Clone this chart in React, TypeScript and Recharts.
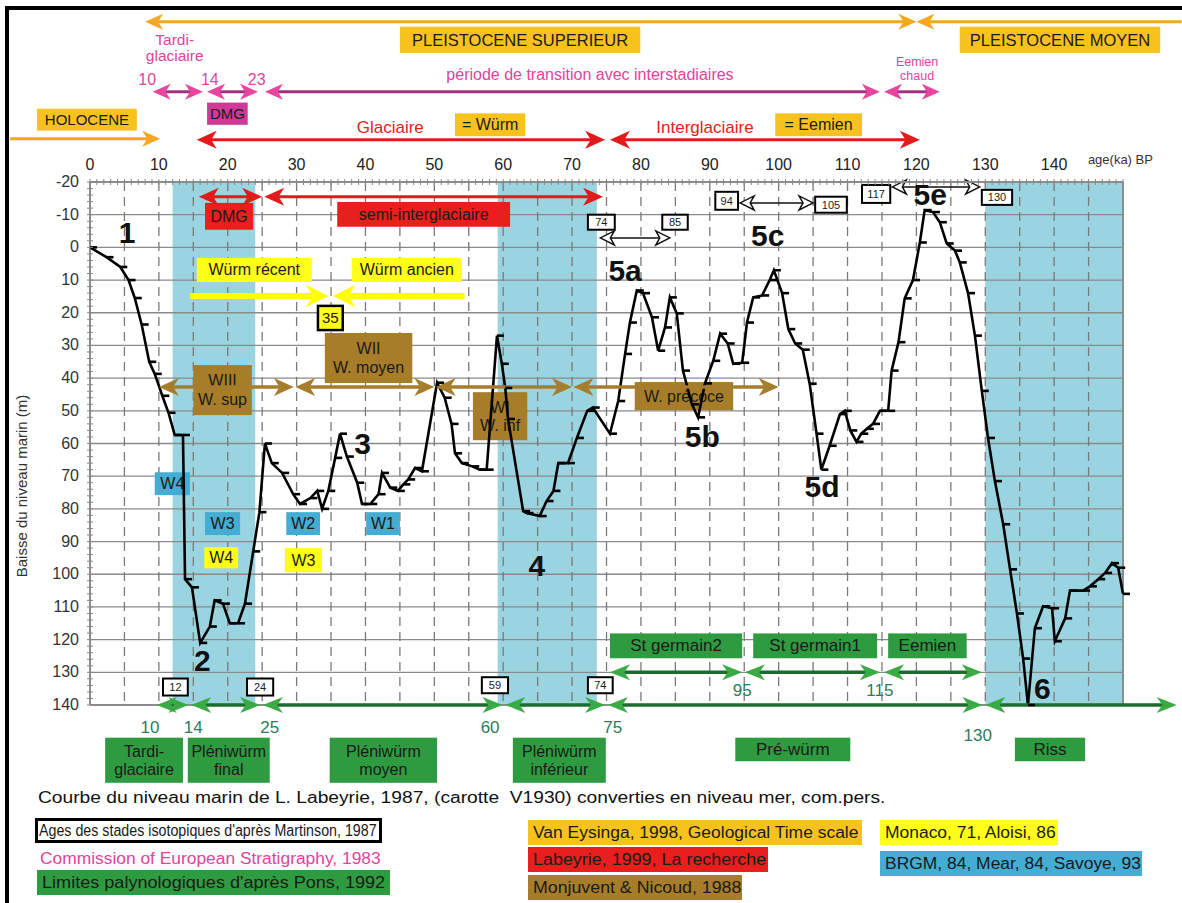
import React from 'react';
import { ComposedChart, Line, XAxis, YAxis, ReferenceLine, ReferenceArea, ReferenceDot } from 'recharts';

const FONT = '"Liberation Sans", Arial, Helvetica, sans-serif';

// sea level curve, Labeyrie 1987 (age in ka BP, drop of sea level in m)
const ages = [
  0, 2.4, 4.4, 5.6, 6.5, 7.5, 8.6, 9.4, 10.5, 11.4, 12.3, 13.5, 13.8, 14.8, 16, 17.4, 18.1, 19.3, 20.3, 21.5,
  22.5, 23.7, 24.6, 25.4, 26.4, 27.9, 29.5, 30.5, 32, 33, 33.7, 34.6, 35.6, 36.3, 37.3, 38.8, 39.5, 40.7, 41.9, 42.4,
  43.6, 44.7, 45.5, 46.2, 47.2, 48.2, 50.4, 51.5, 52.5, 53, 54, 55.5, 56.6, 57.6, 59.1, 59.8, 60.3, 60.7, 62.9, 63.4,
  65.3, 66.3, 67.3, 68, 69.4, 70.7, 72.2, 73, 75.5, 76.7, 77.7, 78.4, 79.4, 80.3, 81.6, 82.5, 83.5, 84.2, 85.2, 86.1,
  87.4, 88.3, 89.3, 90.5, 91.5, 92.6, 93.4, 94.7, 95.4, 96.3, 97.6, 98.7, 99.3, 100.5, 101.4, 102.4, 103.5, 104.5, 105.5, 106.2,
  107.4, 108.9, 109.6, 110.4, 111.3, 112, 112.8, 113.7, 114.7, 115.9, 116.4, 117.4, 118.3, 119.5, 120.5, 121.2, 122.4, 123.4, 124.4, 125.6,
  126.3, 127.5, 128.5, 129.5, 130.4, 131.4, 132.6, 133.6, 134.6, 135.5, 136.2, 137.2, 138.4, 139.7, 140.1, 141.6, 142.3, 144.2, 145.2, 146.4,
  147.4, 148.4, 149.3, 150,
];
const levels = [
  0, 3, 6, 10, 15.5, 23.6, 35, 38.7, 45.4, 50.6, 57.4, 57.4, 101.5, 104, 121, 116, 108, 109, 115, 115,
  109, 93, 81, 60, 66, 69, 75.5, 78.5, 76.7, 74.5, 80, 74.5, 64.4, 57, 64, 72, 78.5, 78.5, 75.5, 69,
  73.5, 74.5, 72.5, 71, 67.5, 68.5, 41.4, 46, 54, 63, 66, 67, 68, 68, 27, 35.6, 43, 52.5, 80.7, 81.3,
  82.2, 77.6, 74.5, 66, 66, 58.3, 50, 49, 57, 47, 32.6, 23, 13.2, 14, 21.4, 31.6, 24.5, 15.3, 20.2, 37.7,
  48, 52, 41.6, 34.7, 26.4, 29.4, 35.6, 35.3, 23, 15.3, 14.7, 10, 7, 14, 25, 29.4, 31.3, 41.7, 57, 68,
  60.7, 51, 50, 56, 59.5, 57, 55.5, 54, 50, 50, 37.7, 29, 15.6, 10, -1.5, -11.4, -10.8, -7.7, -1.2, 1,
  4.6, 14, 27, 43.9, 58.3, 71.5, 84.7, 98.5, 112, 125.8, 140, 116.5, 109.8, 110.4, 120.5, 113.5, 105, 105, 103.7, 101.5,
  99.6, 96.6, 98, 106,
];

const xTicks = Array.from({ length: 151 }, (_, i) => i);
const yTicks = Array.from({ length: 81 }, (_, i) => -20 + i * 2);
const hGrid = [-10, 0, 10, 20, 30, 40, 50, 60, 70, 80, 90, 100, 110, 120, 130];
const vGrid = Array.from({ length: 29 }, (_, i) => 5 + i * 5);

// isotopic stages shaded (ka)
const coldStages = [[12, 24], [59.2, 73.6], [130, 150]];

const data = ages.map((age, i) => ({ age, level: levels[i] }));

const C = {
  gold: '#F8C21E',
  red: '#E81F1D',
  yellow: '#FFFF1A',
  brown: '#A77D2A',
  blue: '#45ACD3',
  green: '#2F9B40',
  magenta: '#E0449C',
  dmg: '#CF3A96',
  band: '#9AD4E1',
  teal: '#2E7B5C',
};

type Arr = { x1: number; x2: number; y: number; heads: string; s: string };
const arrowStyles: Record<string, any> = {
  orange: { line: '#F5A623', head: '#F5A623', w: 3, hl: 18, hw: 8 },
  magenta: { line: '#A3307F', head: '#E8459E', w: 3, hl: 18, hw: 8 },
  red: { line: '#E31A1C', head: '#E31A1C', w: 3, hl: 20, hw: 9 },
  yellow: { line: '#FFFF00', head: '#FFFF00', w: 6, hl: 22, hw: 11 },
  brown: { line: '#A67D2C', head: '#A67D2C', w: 3.5, hl: 20, hw: 9 },
  green: { line: '#1D6B2E', head: '#3AAA45', w: 3.5, hl: 20, hw: 8 },
  hollow: { line: '#111', head: '#fff', w: 1.5, hl: 14, hw: 7, hollow: true },
};

const arrows: Arr[] = [
  { x1: 8, x2: 120, y: -69, heads: 'both', s: 'orange' },
  { x1: 120, x2: 158.5, y: -69, heads: 'start', s: 'orange' },
  { x1: -11.6, x2: 10.2, y: -33.2, heads: 'end', s: 'orange' },
  { x1: 9.1, x2: 16.4, y: -47.6, heads: 'both', s: 'magenta' },
  { x1: 17, x2: 24.4, y: -47.6, heads: 'both', s: 'magenta' },
  { x1: 25.4, x2: 114.7, y: -47.6, heads: 'both', s: 'magenta' },
  { x1: 115.3, x2: 123.4, y: -47.6, heads: 'both', s: 'magenta' },
  { x1: 15.5, x2: 74.8, y: -32.9, heads: 'both', s: 'red' },
  { x1: 75.5, x2: 120.5, y: -32.9, heads: 'both', s: 'red' },
  { x1: 15.8, x2: 25, y: -15.5, heads: 'both', s: 'red' },
  { x1: 25.3, x2: 74.5, y: -15.5, heads: 'both', s: 'red' },
  { x1: 14.5, x2: 34.6, y: 14.9, heads: 'end', s: 'yellow' },
  { x1: 35.3, x2: 54.4, y: 14.9, heads: 'start', s: 'yellow' },
  { x1: 10, x2: 29.6, y: 42.7, heads: 'both', s: 'brown' },
  { x1: 29.8, x2: 50, y: 42.7, heads: 'both', s: 'brown' },
  { x1: 50.2, x2: 70, y: 42.7, heads: 'both', s: 'brown' },
  { x1: 70.2, x2: 100, y: 42.7, heads: 'both', s: 'brown' },
  { x1: 74.1, x2: 84.2, y: -2.9, heads: 'both', s: 'hollow' },
  { x1: 94.4, x2: 105, y: -13.6, heads: 'both', s: 'hollow' },
  { x1: 116.5, x2: 129.2, y: -18.5, heads: 'both', s: 'hollow' },
  { x1: 75.5, x2: 94.7, y: 130, heads: 'both', s: 'green' },
  { x1: 95.1, x2: 114.7, y: 130, heads: 'both', s: 'green' },
  { x1: 115.3, x2: 129.5, y: 130, heads: 'both', s: 'green' },
  { x1: 9.7, x2: 14.3, y: 140, heads: 'both', s: 'green' },
  { x1: 14.7, x2: 24.7, y: 140, heads: 'both', s: 'green' },
  { x1: 25.1, x2: 59.9, y: 140, heads: 'both', s: 'green' },
  { x1: 60.3, x2: 74.8, y: 140, heads: 'both', s: 'green' },
  { x1: 75.2, x2: 129.6, y: 140, heads: 'both', s: 'green' },
  { x1: 130, x2: 157.8, y: 140, heads: 'both', s: 'green' },
];

type Box = { x1: number; x2: number; y1: number; y2: number; t: string[]; fill: string; fs?: number; color?: string; border?: number };
const boxes: Box[] = [
  { x1: 45, x2: 79.9, y1: -67.5, y2: -59.5, t: ['PLEISTOCENE SUPERIEUR'], fill: C.gold, fs: 16.5 },
  { x1: 126.3, x2: 155.4, y1: -67.5, y2: -59.5, t: ['PLEISTOCENE MOYEN'], fill: C.gold, fs: 16.5 },
  { x1: 17, x2: 22.9, y1: -44.3, y2: -37.5, t: ['DMG'], fill: C.dmg },
  { x1: -7.7, x2: 6.8, y1: -42.4, y2: -35.7, t: ['HOLOCENE'], fill: C.gold },
  { x1: 53, x2: 63.2, y1: -41, y2: -34, t: ['= Würm'], fill: C.gold, fs: 16 },
  { x1: 99.5, x2: 112.1, y1: -41, y2: -34, t: ['= Eemien'], fill: C.gold, fs: 16 },
  { x1: 16.7, x2: 23.7, y1: -13.6, y2: -5.4, t: ['DMG'], fill: C.red, fs: 16 },
  { x1: 35.9, x2: 61, y1: -13.9, y2: -6.3, t: ['semi-interglaciaire'], fill: C.red, fs: 16 },
  { x1: 15.5, x2: 32.2, y1: 3.2, y2: 10.6, t: ['Würm récent'], fill: C.yellow, fs: 16 },
  { x1: 38, x2: 54, y1: 3.2, y2: 10.6, t: ['Würm ancien'], fill: C.yellow, fs: 16 },
  { x1: 33.1, x2: 36.7, y1: 17.9, y2: 25.3, t: ['35'], fill: C.yellow, border: 2.5 },
  { x1: 34.1, x2: 46.8, y1: 26.2, y2: 41.5, t: ['WII', 'W. moyen'], fill: C.brown, fs: 16 },
  { x1: 15, x2: 23.5, y1: 36, y2: 51.3, t: ['WIII', 'W. sup'], fill: C.brown, fs: 16 },
  { x1: 55.6, x2: 63.5, y1: 44.3, y2: 59, t: ['WI', 'W. inf'], fill: C.brown, fs: 16 },
  { x1: 79.1, x2: 93.4, y1: 41.2, y2: 49.8, t: ['W. précoce'], fill: C.brown, fs: 16 },
  { x1: 72.3, x2: 76.2, y1: -10, y2: -5.4, t: ['74'], fill: '#fff', fs: 11, border: 2 },
  { x1: 83.1, x2: 86.8, y1: -10, y2: -5.4, t: ['85'], fill: '#fff', fs: 11, border: 2 },
  { x1: 90.8, x2: 94.1, y1: -17, y2: -11.5, t: ['94'], fill: '#fff', fs: 11, border: 2 },
  { x1: 105.3, x2: 109.9, y1: -15.5, y2: -10.6, t: ['105'], fill: '#fff', fs: 11, border: 2 },
  { x1: 112.1, x2: 116.2, y1: -19.1, y2: -13.6, t: ['117'], fill: '#fff', fs: 11, border: 2 },
  { x1: 129.5, x2: 133.9, y1: -17.6, y2: -13, t: ['130'], fill: '#fff', fs: 11, border: 2 },
  { x1: 9.4, x2: 14.5, y1: 68.8, y2: 75.8, t: ['W4'], fill: C.blue, fs: 16 },
  { x1: 16.7, x2: 21.8, y1: 81, y2: 88, t: ['W3'], fill: C.blue, fs: 16 },
  { x1: 28.5, x2: 33.4, y1: 81, y2: 88, t: ['W2'], fill: C.blue, fs: 16 },
  { x1: 40.1, x2: 45, y1: 81, y2: 88, t: ['W1'], fill: C.blue, fs: 16 },
  { x1: 16.6, x2: 21.5, y1: 91.7, y2: 98.2, t: ['W4'], fill: C.yellow, fs: 16 },
  { x1: 28.3, x2: 33.7, y1: 92, y2: 99.4, t: ['W3'], fill: C.yellow, fs: 16 },
  { x1: 75.5, x2: 94.7, y1: 118.1, y2: 125.7, t: ['St germain2'], fill: C.green, fs: 17 },
  { x1: 96.3, x2: 114.3, y1: 118.1, y2: 125.7, t: ['St germain1'], fill: C.green, fs: 17 },
  { x1: 115.9, x2: 127.3, y1: 118.1, y2: 125.7, t: ['Eemien'], fill: C.green, fs: 17 },
  { x1: 10.6, x2: 14.2, y1: 131.9, y2: 137.1, t: ['12'], fill: '#fff', fs: 11, border: 2 },
  { x1: 22.8, x2: 26.6, y1: 131.9, y2: 137.1, t: ['24'], fill: '#fff', fs: 11, border: 2 },
  { x1: 56.9, x2: 60.7, y1: 131.5, y2: 136.4, t: ['59'], fill: '#fff', fs: 11, border: 2 },
  { x1: 72.3, x2: 75.9, y1: 131.5, y2: 136.4, t: ['74'], fill: '#fff', fs: 11, border: 2 },
  { x1: 2.2, x2: 13.5, y1: 150, y2: 163.8, t: ['Tardi-', 'glaciaire'], fill: C.green, fs: 16 },
  { x1: 14.2, x2: 26.1, y1: 150, y2: 163.8, t: ['Pléniwürm', 'final'], fill: C.green, fs: 16 },
  { x1: 34.8, x2: 50.4, y1: 150, y2: 163.8, t: ['Pléniwürm', 'moyen'], fill: C.green, fs: 16 },
  { x1: 61.4, x2: 74.9, y1: 150, y2: 163.8, t: ['Pléniwürm', 'inférieur'], fill: C.green, fs: 16 },
  { x1: 93.7, x2: 110.4, y1: 150, y2: 157.2, t: ['Pré-würm'], fill: C.green, fs: 17 },
  { x1: 134.3, x2: 144.5, y1: 150, y2: 157.2, t: ['Riss'], fill: C.green, fs: 17 },
];

type Txt = { x: number; y: number; t: string[]; color: string; fs: number; bold?: boolean; anchor?: string; lh?: number; rot?: number };
const texts: Txt[] = [
  { x: 12.3, y: -61.2, t: ['Tardi-', 'glaciaire'], color: C.magenta, fs: 15.5, lh: 16 },
  { x: 8.3, y: -51.3, t: ['10'], color: C.magenta, fs: 16 },
  { x: 17.4, y: -51.3, t: ['14'], color: C.magenta, fs: 16 },
  { x: 24.2, y: -51.3, t: ['23'], color: C.magenta, fs: 16 },
  { x: 72.6, y: -52.8, t: ['période de transition avec interstadiaires'], color: C.magenta, fs: 16 },
  { x: 120.1, y: -54.6, t: ['Eemien', 'chaud'], color: C.magenta, fs: 12.5, lh: 14.5 },
  { x: 43.6, y: -36.6, t: ['Glaciaire'], color: '#E42020', fs: 17 },
  { x: 89.3, y: -36.6, t: ['Interglaciaire'], color: '#E42020', fs: 17 },
  { x: 144.9, y: -27, t: ['age(ka) BP'], color: '#333', fs: 13, anchor: 'start' },
  { x: -9.9, y: 73, t: ['Baisse du niveau marin (m)'], color: '#333', fs: 15, rot: -90 },
  { x: 5.4, y: -4.4, t: ['1'], color: '#111', fs: 30, bold: true },
  { x: 16.3, y: 126.3, t: ['2'], color: '#111', fs: 30, bold: true },
  { x: 39.6, y: 59.9, t: ['3'], color: '#111', fs: 30, bold: true },
  { x: 64.9, y: 97.2, t: ['4'], color: '#111', fs: 30, bold: true },
  { x: 77.7, y: 7, t: ['5a'], color: '#111', fs: 30, bold: true },
  { x: 88.9, y: 58, t: ['5b'], color: '#111', fs: 30, bold: true },
  { x: 98.4, y: -3.6, t: ['5c'], color: '#111', fs: 30, bold: true },
  { x: 106.3, y: 73.2, t: ['5d'], color: '#111', fs: 30, bold: true },
  { x: 122, y: -16.3, t: ['5e'], color: '#111', fs: 30, bold: true },
  { x: 138.3, y: 134.8, t: ['6'], color: '#111', fs: 30, bold: true },
  { x: 8.7, y: 146.8, t: ['10'], color: C.teal, fs: 17 },
  { x: 15, y: 146.8, t: ['14'], color: C.teal, fs: 17 },
  { x: 26.1, y: 146.8, t: ['25'], color: C.teal, fs: 17 },
  { x: 58.1, y: 146.8, t: ['60'], color: C.teal, fs: 17 },
  { x: 75.9, y: 146.8, t: ['75'], color: C.teal, fs: 17 },
  { x: 128.9, y: 149.3, t: ['130'], color: C.teal, fs: 17 },
  { x: 94.7, y: 135.5, t: ['95'], color: C.teal, fs: 17 },
  { x: 114.7, y: 135.5, t: ['115'], color: C.teal, fs: 17 },
];

const legendItems = [
  { text: "Ages des stades isotopiques d'après Martinson, 1987", left: 35, top: 818, width: 347, bg: '#fff', border: true, sx: 0.89 },
  { text: 'Commission of European Stratigraphy, 1983', left: 35, top: 846, width: 345, bg: 'transparent', color: C.magenta, sx: 1.086 },
  { text: "Limites palynologiques d'après Pons, 1992", left: 37, top: 870, width: 353, bg: C.green, sx: 1.13 },
  { text: 'Van Eysinga, 1998, Geological Time scale', left: 528, top: 820, width: 334, bg: C.gold, sx: 1.09 },
  { text: 'Labeyrie, 1999, La recherche', left: 528, top: 847, width: 240, bg: C.red, sx: 1.12 },
  { text: 'Monjuvent & Nicoud, 1988', left: 528, top: 875, width: 214, bg: C.brown, sx: 1.11 },
  { text: 'Monaco, 71, Aloisi, 86', left: 880, top: 820, width: 178, bg: C.yellow, sx: 1.09 },
  { text: 'BRGM, 84, Mear, 84, Savoye, 93', left: 880, top: 851, width: 262, bg: C.blue, sx: 1.09 },
];

const arrowShape = (st: any, heads: string) => (p: any) => {
  const { x1, y1, x2, y2 } = p;
  if ([x1, y1, x2, y2].some((v) => typeof v !== 'number' || isNaN(v))) return <g />;
  const dx = x2 - x1, dy = y2 - y1;
  const len = Math.hypot(dx, dy) || 1;
  const ux = dx / len, uy = dy / len, nx = -uy, ny = ux;
  const head = (tx: number, ty: number, d: number) => {
    const bx = tx - d * ux * st.hl, by = ty - d * uy * st.hl;
    const mx = tx - d * ux * st.hl * 0.72, my = ty - d * uy * st.hl * 0.72;
    return `${tx},${ty} ${bx + nx * st.hw},${by + ny * st.hw} ${mx},${my} ${bx - nx * st.hw},${by - ny * st.hw}`;
  };
  const hs = heads === 'both' || heads === 'start';
  const he = heads === 'both' || heads === 'end';
  const cut = st.hl * 0.7;
  return (
    <g>
      <line
        x1={hs ? x1 + ux * cut : x1} y1={hs ? y1 + uy * cut : y1}
        x2={he ? x2 - ux * cut : x2} y2={he ? y2 - uy * cut : y2}
        stroke={st.line} strokeWidth={st.w}
      />
      {hs && <polygon points={head(x1, y1, -1)} fill={st.head} stroke={st.hollow ? st.line : 'none'} strokeWidth={st.hollow ? 1.5 : 0} />}
      {he && <polygon points={head(x2, y2, 1)} fill={st.head} stroke={st.hollow ? st.line : 'none'} strokeWidth={st.hollow ? 1.5 : 0} />}
    </g>
  );
};

// grid drawn as zero-thickness reference areas so that it stays under the label boxes
const gridShape = (vertical: boolean, color: string, w: number, dash?: string) => (p: any) => {
  const { x, y, width, height } = p;
  if ([x, y, width, height].some((v) => typeof v !== 'number' || isNaN(v))) return <g />;
  return vertical
    ? <line x1={x} x2={x} y1={y} y2={y + height} stroke={color} strokeWidth={w} strokeDasharray={dash} />
    : <line x1={x} x2={x + width} y1={y} y2={y} stroke={color} strokeWidth={w} strokeDasharray={dash} />;
};

const boxShape = (b: Box) => (p: any) => {
  const { x, y, width, height } = p;
  if ([x, y, width, height].some((v) => typeof v !== 'number' || isNaN(v))) return <g />;
  const fs = b.fs ?? 15;
  const lh = fs * 1.15;
  const cy = y + height / 2 - ((b.t.length - 1) * lh) / 2;
  return (
    <g>
      <rect x={x} y={y} width={width} height={height} fill={b.fill}
        stroke={b.border ? '#000' : 'none'} strokeWidth={b.border ?? 0} />
      <text x={x + width / 2} textAnchor="middle" fontSize={fs} fontFamily={FONT} fill={b.color ?? '#1a1a1a'}>
        {b.t.map((l, i) => (
          <tspan key={i} x={x + width / 2} y={cy + i * lh} dominantBaseline="central">{l}</tspan>
        ))}
      </text>
    </g>
  );
};

const textShape = (t: Txt) => (p: any) => {
  const { cx, cy } = p;
  if (typeof cx !== 'number' || typeof cy !== 'number' || isNaN(cx) || isNaN(cy)) return <g />;
  const lh = t.lh ?? t.fs * 1.1;
  const y0 = cy - ((t.t.length - 1) * lh) / 2;
  return (
    <text
      textAnchor={t.anchor ?? 'middle'} fontSize={t.fs} fontFamily={FONT}
      fontWeight={t.bold ? 'bold' : 'normal'} fill={t.color}
      transform={t.rot ? `rotate(${t.rot} ${cx} ${cy})` : undefined}
    >
      {t.t.map((l, i) => (
        <tspan key={i} x={cx} y={y0 + i * lh} dominantBaseline="central">{l}</tspan>
      ))}
    </text>
  );
};

const XTick = (p: any) => {
  const { x, y, payload } = p;
  const v = payload.value;
  return (
    <g>
      <line x1={x} x2={x} y1={y - 3} y2={y + 3} stroke="#888" strokeWidth={1} />
      {v % 10 === 0 && v < 150 && (
        <text x={x} y={y - 12} textAnchor="middle" fontSize={16} fontFamily={FONT} fill="#222">{v}</text>
      )}
    </g>
  );
};

const YTick = (p: any) => {
  const { x, y, payload } = p;
  const v = payload.value;
  return (
    <g>
      <line x1={x - 3} x2={x + 3} y1={y} y2={y} stroke="#888" strokeWidth={1} />
      {v % 10 === 0 && (
        <text x={x - 11} y={y} dy={5} textAnchor="end" fontSize={16} fontFamily={FONT} fill="#333">{v}</text>
      )}
    </g>
  );
};

const PointDash = (p: any) => {
  const { cx, cy, index } = p;
  if (typeof cx !== 'number' || typeof cy !== 'number') return <g key={index} />;
  return <line key={index} x1={cx} x2={cx + 7} y1={cy} y2={cy} stroke="#000" strokeWidth={2.6} />;
};

export default function App() {
  return (
    <div style={{ position: 'absolute', left: 0, top: 0, width: 1182, height: 903, background: '#fff', fontFamily: FONT, overflow: 'hidden' }}>
      <div style={{ position: 'absolute', left: 5, top: 6, width: 1300, height: 1000, borderTop: '4px solid #000', borderLeft: '4px solid #000' }} />
      <div style={{ position: 'absolute', left: 0, top: 0 }}>
        <ComposedChart width={1182} height={903} data={data} margin={{ top: 152, right: 59, bottom: 198, left: 30 }}>
          <XAxis
            dataKey="age" type="number" orientation="top" domain={[0, 150]} ticks={xTicks} interval={0}
            height={30} tickSize={0} tickMargin={0} tickLine={false} tick={<XTick />}
            axisLine={{ stroke: '#8c8c8c', strokeWidth: 2 }}
          />
          <YAxis
            type="number" domain={[-20, 140]} reversed ticks={yTicks} interval={0} width={60}
            tickSize={0} tickMargin={0} tickLine={false} tick={<YTick />}
            axisLine={{ stroke: '#8c8c8c', strokeWidth: 2 }}
          />
          {coldStages.map(([a, b], i) => (
            <ReferenceArea key={'band' + i} x1={a} x2={b} y1={-20} y2={140} fill={C.band} fillOpacity={1} stroke="none" ifOverflow="visible" />
          ))}
          {hGrid.map((v) => (
            <ReferenceArea key={'h' + v} x1={0} x2={150} y1={v} y2={v} ifOverflow="visible" shape={gridShape(false, '#8a8a8a', 1.3)} />
          ))}
          {vGrid.map((v) => (
            <ReferenceArea key={'v' + v} x1={v} x2={v} y1={-20} y2={140} ifOverflow="visible" shape={gridShape(true, '#7a7a7a', 1.3, '9 6')} />
          ))}
          <ReferenceArea x1={150} x2={150} y1={-20} y2={140} ifOverflow="visible" shape={gridShape(true, '#8c8c8c', 2)} />
          <ReferenceArea x1={0} x2={150} y1={140} y2={140} ifOverflow="visible" shape={gridShape(false, '#8c8c8c', 2)} />
          {boxes.map((b, i) => (
            <ReferenceArea key={'box' + i} x1={b.x1} x2={b.x2} y1={b.y1} y2={b.y2} ifOverflow="visible" shape={boxShape(b)} />
          ))}
          <Line
            dataKey="level" type="linear" stroke="#000" strokeWidth={2.6}
            dot={PointDash} activeDot={false} isAnimationActive={false}
          />
          {arrows.map((a, i) => (
            <ReferenceLine
              key={'arr' + i}
              segment={[{ x: a.x1, y: a.y }, { x: a.x2, y: a.y }]}
              ifOverflow="visible"
              shape={arrowShape(arrowStyles[a.s], a.heads)}
            />
          ))}
          {texts.map((t, i) => (
            <ReferenceDot key={'txt' + i} x={t.x} y={t.y} r={0} ifOverflow="visible" shape={textShape(t)} />
          ))}
        </ComposedChart>
      </div>
      <div style={{ position: 'absolute', left: 38, top: 789, fontSize: 16, color: '#111', whiteSpace: 'nowrap', transform: 'scaleX(1.2)', transformOrigin: 'left center' }}>
        Courbe du niveau marin de L. Labeyrie, 1987, (carotte&nbsp; V1930) converties en niveau mer, com.pers.
      </div>
      {legendItems.map((l, i) => (
        <div
          key={i}
          style={{
            position: 'absolute', left: l.left, top: l.top, width: l.width, height: 25, boxSizing: 'border-box',
            background: l.bg, border: l.border ? '3px solid #000' : 'none', color: l.color ?? '#1a1a1a',
            fontSize: 16, lineHeight: l.border ? '19px' : '25px', paddingLeft: l.border ? 1 : 5, whiteSpace: 'nowrap',
          }}
        >
          <span style={{ display: 'inline-block', transform: `scaleX(${l.sx})`, transformOrigin: 'left center' }}>{l.text}</span>
        </div>
      ))}
    </div>
  );
}
